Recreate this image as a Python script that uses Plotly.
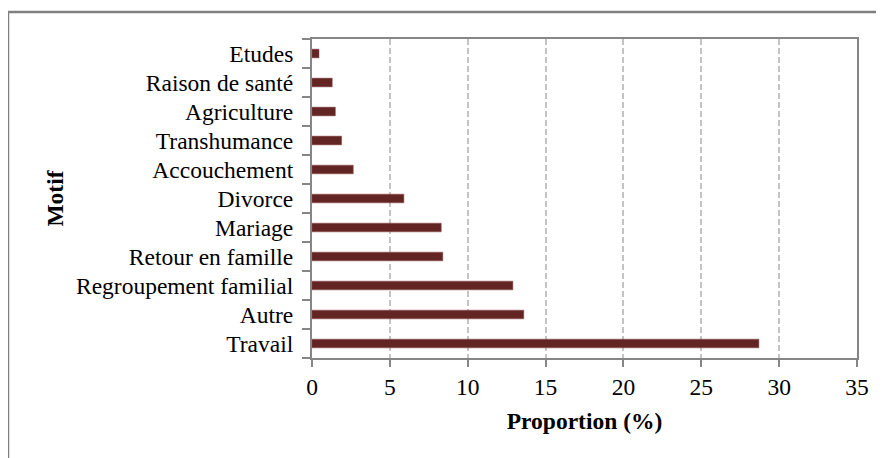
import plotly.graph_objects as go

categories = ["Travail", "Autre", "Regroupement familial", "Retour en famille", "Mariage",
              "Divorce", "Accouchement", "Transhumance", "Agriculture", "Raison de santé", "Etudes"]
values = [28.7, 13.6, 12.9, 8.4, 8.3, 5.9, 2.65, 1.9, 1.5, 1.3, 0.45]
x_ticks = [0, 5, 10, 15, 20, 25, 30, 35]

FONT = "Liberation Serif, Times New Roman, serif"
AXIS = "#868686"
FS = 23.5

fig = go.Figure(go.Bar(
    x=values, y=categories, orientation="h",
    marker=dict(color="#632523", line=dict(color="#8a4a48", width=0.5)),
    width=0.3,
))

fig.update_layout(
    width=884, height=458,
    margin=dict(l=304, r=35, t=31, b=108),
    paper_bgcolor="white", plot_bgcolor="white",
    font=dict(family=FONT, size=FS, color="black"),
    showlegend=False,
    bargap=0.7,
)

fig.update_xaxes(
    range=[0, 35], tickvals=x_ticks, ticktext=[str(v) for v in x_ticks],
    showline=True, linecolor=AXIS, linewidth=2, mirror=True,
    ticks="outside", ticklen=7, tickcolor=AXIS, tickwidth=2,
    showgrid=True, gridcolor="#c4c4c4", gridwidth=1.5, griddash="6px,3px",
    zeroline=False,
    tickfont=dict(family=FONT, size=FS),
    title=dict(text="<b>Proportion (%)</b>", font=dict(family=FONT, size=FS), standoff=13),
)

fig.update_yaxes(
    categoryorder="array", categoryarray=categories,
    showline=True, linecolor=AXIS, linewidth=2, mirror=True,
    ticks="outside", ticklen=8, tickcolor=AXIS, tickwidth=2, tickson="boundaries",
    ticklabelstandoff=12,
    showgrid=False,
    tickfont=dict(family=FONT, size=FS),
    title=dict(text="<b>Motif</b>", font=dict(family=FONT, size=FS), standoff=6),
)

fig.add_shape(type="rect", xref="paper", yref="paper",
              x0=-304 / 545, x1=1.3, y0=-0.6, y1=(350 - 4) / 319,
              line=dict(color="#808080", width=2.5), fillcolor="rgba(0,0,0,0)", layer="below")

fig.write_html("out.html")
